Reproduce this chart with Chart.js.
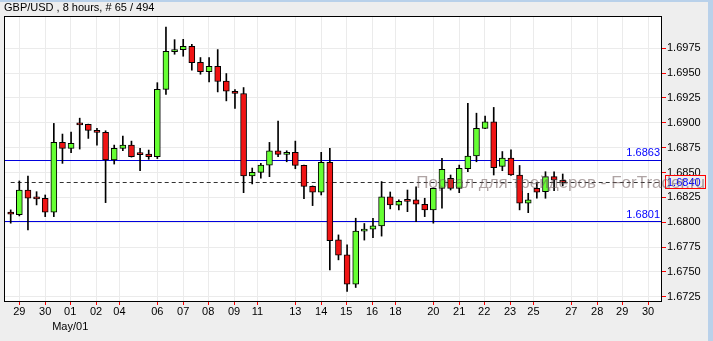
<!DOCTYPE html>
<html>
<head>
<meta charset="utf-8">
<style>
  html, body { margin: 0; padding: 0; background: #eeeeee; }
  canvas { display: block; }
</style>
<script src="https://cdn.jsdelivr.net/npm/chart.js@4.4.1/dist/chart.umd.min.js"></script>
</head>
<body>
<canvas id="gbpChart" width="713" height="341"></canvas>
<script>
// GBP/USD 8h candles
const opens  = [1.68103, 1.68076, 1.68324, 1.68250, 1.68241, 1.68100, 1.68803, 1.68743, 1.68995, 1.68984,
                1.68924, 1.68904, 1.68626, 1.68743, 1.68776, 1.68695, 1.68686, 1.68659, 1.69337, 1.69717,
                1.69737, 1.69770, 1.69609, 1.69516, 1.69569, 1.69419, 1.69318, 1.69295, 1.68465, 1.68502,
                1.68575, 1.68719, 1.68683, 1.68703, 1.68572, 1.68361, 1.68301, 1.68602, 1.67822, 1.67672,
                1.67377, 1.67910, 1.67930, 1.67963, 1.68256, 1.68171, 1.68225, 1.68224, 1.68181, 1.68124,
                1.68341, 1.68442, 1.68341, 1.68538, 1.68666, 1.68944, 1.69010, 1.68562, 1.68645, 1.68475,
                1.68191, 1.68341, 1.68307, 1.68458, 1.68410];
const highs  = [1.68124, 1.68415, 1.68465, 1.68307, 1.68274, 1.68994, 1.68887, 1.68907, 1.69047, 1.68987,
                1.68944, 1.68920, 1.68776, 1.68866, 1.68816, 1.68743, 1.68726, 1.69404, 1.69964, 1.69837,
                1.69840, 1.69790, 1.69657, 1.69657, 1.69737, 1.69496, 1.69335, 1.69355, 1.68545, 1.68592,
                1.68803, 1.69017, 1.68719, 1.68816, 1.68575, 1.68365, 1.68703, 1.68743, 1.67872, 1.67772,
                1.68040, 1.67987, 1.68040, 1.68409, 1.68304, 1.68224, 1.68324, 1.68357, 1.68241, 1.68345,
                1.68643, 1.68475, 1.68575, 1.69195, 1.69097, 1.69067, 1.69155, 1.68711, 1.68727, 1.68571,
                1.68291, 1.68391, 1.68508, 1.68508, 1.68485];
const lows   = [1.67990, 1.68063, 1.67923, 1.68174, 1.68056, 1.68056, 1.68592, 1.68699, 1.68736, 1.68843,
                1.68776, 1.68197, 1.68585, 1.68719, 1.68655, 1.68518, 1.68633, 1.68640, 1.69287, 1.69690,
                1.69670, 1.69529, 1.69489, 1.69412, 1.69311, 1.69221, 1.69145, 1.68297, 1.68385, 1.68442,
                1.68458, 1.68659, 1.68608, 1.68538, 1.68237, 1.68167, 1.68274, 1.67521, 1.67621, 1.67303,
                1.67343, 1.67820, 1.67844, 1.67860, 1.68134, 1.68124, 1.68106, 1.68006, 1.68056, 1.67990,
                1.68141, 1.68324, 1.68297, 1.68508, 1.68608, 1.68940, 1.68475, 1.68518, 1.68470, 1.68124,
                1.68096, 1.68241, 1.68241, 1.68317, 1.68365];
const closes = [1.68080, 1.68324, 1.68241, 1.68235, 1.68100, 1.68803, 1.68743, 1.68793, 1.68980, 1.68924,
                1.68904, 1.68626, 1.68743, 1.68776, 1.68659, 1.68680, 1.68659, 1.69337, 1.69720, 1.69737,
                1.69770, 1.69606, 1.69516, 1.69569, 1.69416, 1.69318, 1.69295, 1.68465, 1.68502, 1.68575,
                1.68719, 1.68683, 1.68703, 1.68572, 1.68361, 1.68301, 1.68602, 1.67815, 1.67669, 1.67377,
                1.67910, 1.67930, 1.67963, 1.68256, 1.68174, 1.68211, 1.68210, 1.68181, 1.68124, 1.68341,
                1.68532, 1.68341, 1.68542, 1.68666, 1.68944, 1.69010, 1.68548, 1.68645, 1.68475, 1.68191,
                1.68224, 1.68301, 1.68458, 1.68425, 1.68400];

// x axis: bar-number positions of the date ticks and their labels
const dateTickPos = [1.0, 4.0, 6.9, 9.9, 12.6, 17.0, 20.0, 22.9, 25.9, 28.6, 33.0, 36.0,
                     38.9, 41.9, 44.6, 49.0, 52.0, 54.9, 57.9, 60.6, 65.0, 68.0, 70.9, 73.9];
const dateTickLabels = ['29', '30', '01', '02', '04', '06', '07', '08', '09', '11', '13', '14',
                        '15', '16', '18', '20', '21', '22', '23', '25', '27', '28', '29', '30'];
const monthLabel = 'May/01';
const monthTickIndex = 2;

// y axis ticks
const priceTicks = [1.6725, 1.6750, 1.6775, 1.6800, 1.6825, 1.6850, 1.6875, 1.6900, 1.6925, 1.6950, 1.6975];

// horizontal levels
const levelHigh = 1.6863;
const levelLow = 1.6801;
const lastPrice = 1.6840;

const titleText = 'GBP/USD , 8 hours, # 65 / 494';
const watermark = 'Портал для трейдеров - ForTrader.ru';

const FONT = "'Liberation Sans', Arial, sans-serif";
Chart.defaults.font.family = FONT;
Chart.defaults.font.size = 11;
Chart.defaults.color = '#000';

const bodyData = opens.map((o, i) => ({ x: i, y: [o, closes[i]] }));
const wickData = lows.map((l, i) => ({ x: i, y: [l, highs[i]] }));
const bodyColors = opens.map((o, i) => closes[i] >= o ? '#66ff33' : '#f01414');

// background, frame, levels, title, watermark
const decor = {
  id: 'decor',
  beforeDraw(chart) {
    const c = chart.ctx, a = chart.chartArea;
    c.save();
    c.fillStyle = '#eeeeee';
    c.fillRect(0, 0, chart.width, chart.height);
    c.fillStyle = '#b9d1ea';
    c.fillRect(0, 0, chart.width, 2);
    c.fillRect(chart.width - 5, 0, 5, chart.height);
    c.fillStyle = '#ffffff';
    c.fillRect(a.left, a.top, a.right - a.left, a.bottom - a.top);
    c.fillStyle = '#000';
    c.font = '11px ' + FONT;
    c.textBaseline = 'middle';
    c.fillText(titleText, a.left, a.top / 2);
    c.restore();
  },
  beforeDatasetsDraw(chart) {
    const c = chart.ctx, a = chart.chartArea;
    const ys = chart.scales.y, xs = chart.scales.x;
    c.save();
    c.strokeStyle = '#0000dd';
    c.lineWidth = 1;
    [levelHigh, levelLow].forEach(v => {
      const py = Math.round(ys.getPixelForValue(v)) + 0.5;
      c.beginPath(); c.moveTo(a.left, py); c.lineTo(a.right, py); c.stroke();
    });
    const pd = Math.round(ys.getPixelForValue(lastPrice)) + 0.5;
    c.strokeStyle = '#333';
    c.setLineDash([4, 3]);
    c.beginPath(); c.moveTo(xs.getPixelForValue(0), pd); c.lineTo(a.right, pd); c.stroke();
    c.restore();
  },
  afterDatasetsDraw(chart) {
    const c = chart.ctx, a = chart.chartArea;
    const ys = chart.scales.y;
    c.save();
    // frame
    c.strokeStyle = '#000';
    c.lineWidth = 1;
    c.strokeRect(a.left + 0.5, a.top + 0.5, a.right - a.left - 1, a.bottom - a.top);
    // level labels
    c.font = '11px ' + FONT;
    c.fillStyle = '#0000ff';
    c.textAlign = 'right';
    c.textBaseline = 'bottom';
    [levelHigh, levelLow].forEach(v => {
      c.fillText(v.toFixed(4), a.right - 2, ys.getPixelForValue(v) - 1);
    });
    // last price box
    const py = Math.round(ys.getPixelForValue(lastPrice));
    c.fillStyle = '#eeeeee';
    c.fillRect(a.right + 3, py - 6, 40, 13);
    c.strokeStyle = '#ff0000';
    c.strokeRect(a.right + 3.5, py - 6.5, 40, 13);
    c.fillStyle = '#0000ff';
    c.textAlign = 'left';
    c.textBaseline = 'middle';
    c.fillText(lastPrice.toFixed(4), a.right + 5, py + 0.5);
    // watermark
    c.font = '17px ' + FONT;
    c.fillStyle = 'rgba(110, 90, 90, 0.55)';
    c.textAlign = 'right';
    c.fillText(watermark, chart.width - 8, py + 1);
    c.restore();
  }
};

const ctx = document.getElementById('gbpChart').getContext('2d');
const gbpChart = new Chart(ctx, {
  type: 'bar',
  data: {
    datasets: [
      {
        label: 'body',
        data: bodyData,
        backgroundColor: bodyColors,
        borderColor: '#000',
        borderWidth: 1,
        borderSkipped: false,
        barThickness: 6,
        minBarLength: 2,
        grouped: false,
        order: 0
      },
      {
        label: 'wick',
        data: wickData,
        backgroundColor: '#000',
        borderWidth: 0,
        barThickness: 1,
        grouped: false,
        order: 1
      }
    ]
  },
  options: {
    responsive: false,
    animation: false,
    events: [],
    layout: { padding: { left: 4, top: 16, right: 0, bottom: 0 } },
    plugins: { legend: { display: false }, tooltip: { enabled: false } },
    scales: {
      x: {
        type: 'linear',
        min: -0.777,
        max: 75.51,
        offset: false,
        border: { display: false },
        grid: { offset: false, color: '#ebebeb', tickColor: '#ff0000', tickLength: 4 },
        afterBuildTicks: s => { s.ticks = dateTickPos.map(v => ({ value: v })); },
        afterFit: s => { s.height = 40; },
        ticks: {
          autoSkip: false,
          maxRotation: 0,
          padding: 0,
          font: { size: 11, lineHeight: 1.35 },
          callback: (v, i) => i === monthTickIndex ? [dateTickLabels[i], monthLabel] : dateTickLabels[i]
        }
      },
      y: {
        position: 'right',
        min: 1.67207,
        max: 1.70075,
        beginAtZero: false,
        border: { display: false },
        grid: { color: '#ebebeb', tickColor: '#ff0000', tickLength: 4 },
        afterBuildTicks: s => { s.ticks = priceTicks.map(v => ({ value: v })); },
        afterFit: s => { s.width = 51; },
        ticks: {
          padding: 1,
          font: { size: 11 },
          callback: v => v.toFixed(4)
        }
      }
    }
  },
  plugins: [decor]
});
</script>
</body>
</html>
